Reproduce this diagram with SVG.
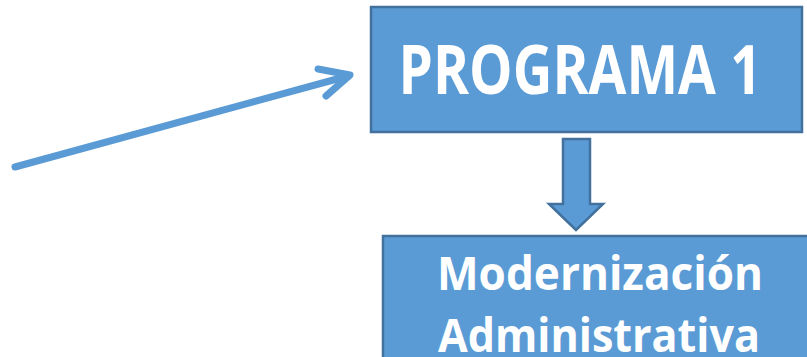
<svg xmlns="http://www.w3.org/2000/svg" width="807" height="357" viewBox="0 0 807 357">
<style>
.box{fill:#5B9BD5;stroke:#41719C;stroke-width:2.5}
.t{fill:#ffffff;font-family:"Open Sans","Liberation Sans",sans-serif;font-weight:bold;text-anchor:middle}
.ln{fill:none;stroke:#5B9BD5;stroke-width:7;stroke-linecap:round;stroke-linejoin:round}
</style>
<g id="connectors">
<path class="ln" d="M15,167 L348,76" stroke-linecap="butt"/>
<path class="ln" d="M318,69 L350,75 L326,96"/>
<path class="box" d="M563,139 H590 V204 H603 L576,230 L549,204 H563 Z"/>
</g>
<g id="programa1">
<rect class="box" x="371" y="7" width="431" height="125"/>
<text class="t" x="580" y="94" font-size="68" textLength="363" lengthAdjust="spacingAndGlyphs">PROGRAMA 1</text>
</g>
<g id="modernizacion">
<rect class="box" x="383" y="236" width="440" height="140"/>
<text class="t" x="600" y="290" font-size="47" textLength="326" lengthAdjust="spacingAndGlyphs">Modernización</text>
<text class="t" x="599" y="352" font-size="47" textLength="322" lengthAdjust="spacingAndGlyphs">Administrativa</text>
</g>
</svg>
